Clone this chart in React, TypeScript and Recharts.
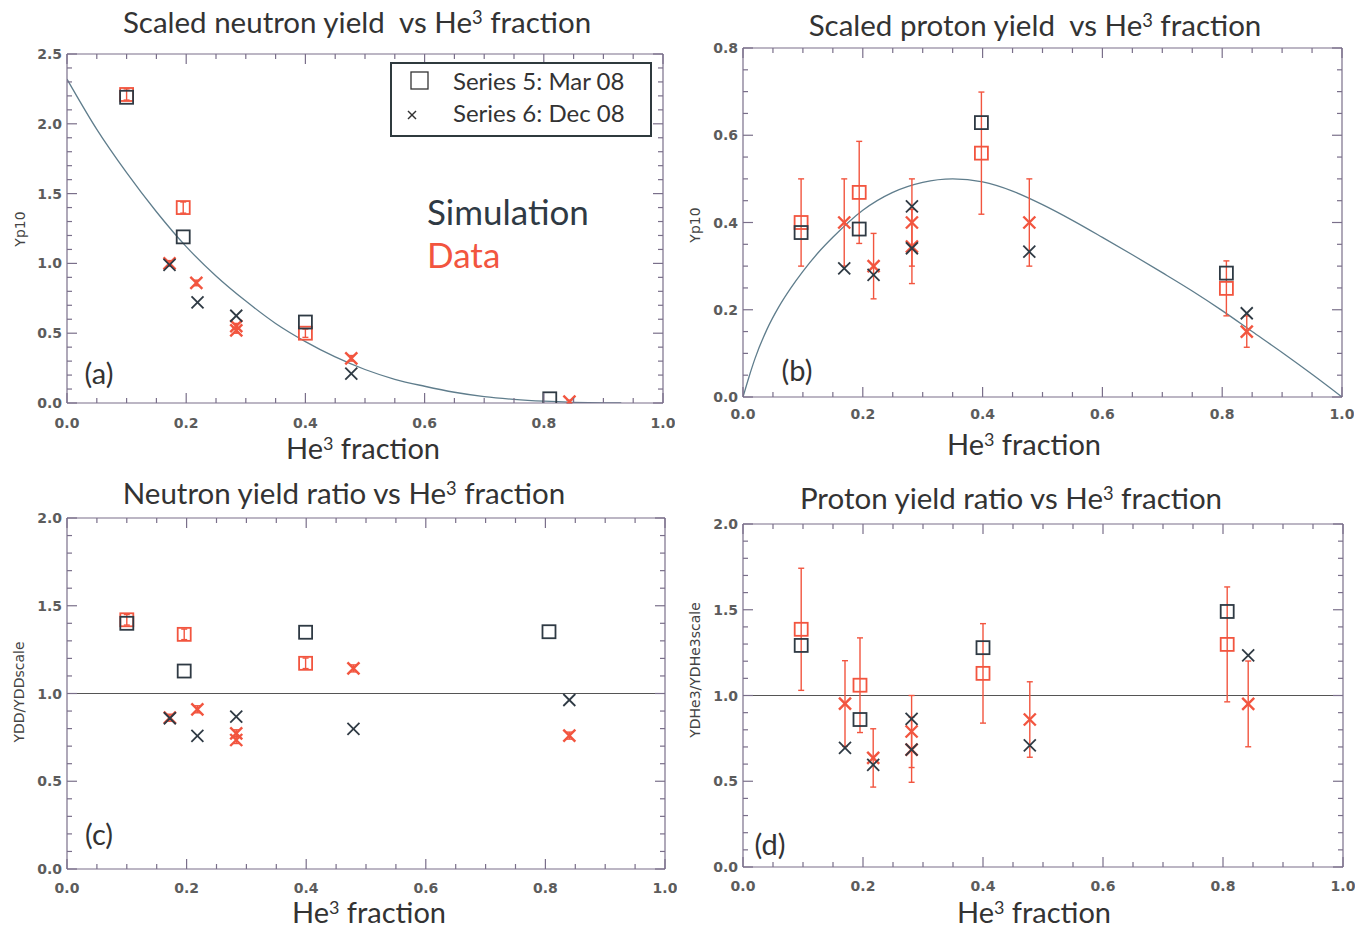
import React from 'react';
import { ComposedChart, Scatter, Line, XAxis, YAxis, ErrorBar, ReferenceLine } from 'recharts';

const FRAME = '#7a6f8a';
const SIM = '#2f3a44';
const DATA = '#f2553f';
const CURVE = '#5f7d8c';
const TICK_FONT = 'DejaVu Sans, sans-serif';
const TEXT_FONT = 'Lato, sans-serif';

// tick positions (majors get a label)
const xTicks = [0, 0.05, 0.1, 0.15, 0.2, 0.25, 0.3, 0.35, 0.4, 0.45, 0.5, 0.55, 0.6, 0.65, 0.7, 0.75, 0.8, 0.85, 0.9, 0.95, 1.0];
const yTicksA = [0, 0.1, 0.2, 0.3, 0.4, 0.5, 0.6, 0.7, 0.8, 0.9, 1.0, 1.1, 1.2, 1.3, 1.4, 1.5, 1.6, 1.7, 1.8, 1.9, 2.0, 2.1, 2.2, 2.3, 2.4, 2.5];
const yTicksB = [0, 0.05, 0.1, 0.15, 0.2, 0.25, 0.3, 0.35, 0.4, 0.45, 0.5, 0.55, 0.6, 0.65, 0.7, 0.75, 0.8];
const yTicksRatio = [0, 0.1, 0.2, 0.3, 0.4, 0.5, 0.6, 0.7, 0.8, 0.9, 1.0, 1.1, 1.2, 1.3, 1.4, 1.5, 1.6, 1.7, 1.8, 1.9, 2.0];

// (a) scaled neutron yield
const neutronSimMar = [{ x: 0.1, y: 2.19 }, { x: 0.195, y: 1.19 }, { x: 0.4, y: 0.58 }, { x: 0.81, y: 0.03 }];
const neutronSimDec = [{ x: 0.172, y: 0.99 }, { x: 0.219, y: 0.72 }, { x: 0.284, y: 0.625 }, { x: 0.477, y: 0.21 }];
const neutronDataMar = [{ x: 0.1, y: 2.21, err: 0.04 }, { x: 0.195, y: 1.4, err: 0.04 }, { x: 0.4, y: 0.5, err: 0.03 }];
const neutronDataDec = [
  { x: 0.172, y: 1.0, err: 0.02 }, { x: 0.217, y: 0.86, err: 0.02 }, { x: 0.284, y: 0.55, err: 0.02 },
  { x: 0.284, y: 0.52, err: 0.02 }, { x: 0.477, y: 0.32, err: 0.02 }, { x: 0.843, y: 0.01, err: 0.01 },
];
const neutronCurve = [
  { x: 0, y: 2.32 }, { x: 0.05, y: 1.96 }, { x: 0.1, y: 1.65 }, { x: 0.15, y: 1.37 }, { x: 0.2, y: 1.12 },
  { x: 0.25, y: 0.91 }, { x: 0.3, y: 0.73 }, { x: 0.35, y: 0.57 }, { x: 0.4, y: 0.44 }, { x: 0.45, y: 0.33 },
  { x: 0.5, y: 0.24 }, { x: 0.55, y: 0.17 }, { x: 0.6, y: 0.12 }, { x: 0.65, y: 0.077 }, { x: 0.7, y: 0.046 },
  { x: 0.75, y: 0.026 }, { x: 0.8, y: 0.013 }, { x: 0.85, y: 0.005 }, { x: 0.9, y: 0.001 }, { x: 0.93, y: 0 },
];

// (b) scaled proton yield
const protonSimMar = [{ x: 0.097, y: 0.377 }, { x: 0.194, y: 0.385 }, { x: 0.398, y: 0.629 }, { x: 0.807, y: 0.284 }];
const protonSimDec = [
  { x: 0.169, y: 0.295 }, { x: 0.218, y: 0.28 }, { x: 0.282, y: 0.437 },
  { x: 0.282, y: 0.341 }, { x: 0.478, y: 0.333 }, { x: 0.841, y: 0.192 },
];
const protonDataMar = [
  { x: 0.097, y: 0.4, err: 0.1 }, { x: 0.194, y: 0.469, err: 0.117 },
  { x: 0.398, y: 0.559, err: 0.14 }, { x: 0.807, y: 0.249, err: 0.063 },
];
const protonDataDec = [
  { x: 0.169, y: 0.4, err: 0.1 }, { x: 0.218, y: 0.3, err: 0.075 }, { x: 0.282, y: 0.4, err: 0.1 },
  { x: 0.282, y: 0.345, err: 0.085 }, { x: 0.478, y: 0.4, err: 0.1 }, { x: 0.841, y: 0.15, err: 0.036 },
];
const protonCurve = [
  { x: 0, y: 0 }, { x: 0.01, y: 0.046 }, { x: 0.02, y: 0.088 }, { x: 0.04, y: 0.155 }, { x: 0.06, y: 0.207 },
  { x: 0.08, y: 0.25 }, { x: 0.1, y: 0.288 }, { x: 0.125, y: 0.33 }, { x: 0.15, y: 0.366 }, { x: 0.2, y: 0.428 },
  { x: 0.25, y: 0.469 }, { x: 0.3, y: 0.492 }, { x: 0.35, y: 0.5 }, { x: 0.4, y: 0.493 }, { x: 0.45, y: 0.472 },
  { x: 0.5, y: 0.441 }, { x: 0.55, y: 0.405 }, { x: 0.6, y: 0.366 }, { x: 0.65, y: 0.326 }, { x: 0.7, y: 0.285 },
  { x: 0.75, y: 0.243 }, { x: 0.8, y: 0.198 }, { x: 0.85, y: 0.15 }, { x: 0.9, y: 0.102 }, { x: 0.95, y: 0.052 },
  { x: 1.0, y: 0 },
];

// (c) neutron yield ratio
const nRatioSimMar = [{ x: 0.1, y: 1.4 }, { x: 0.196, y: 1.128 }, { x: 0.399, y: 1.349 }, { x: 0.806, y: 1.352 }];
const nRatioSimDec = [{ x: 0.172, y: 0.859 }, { x: 0.218, y: 0.758 }, { x: 0.283, y: 0.868 }, { x: 0.479, y: 0.798 }, { x: 0.84, y: 0.963 }];
const nRatioDataMar = [{ x: 0.1, y: 1.42, err: 0.03 }, { x: 0.196, y: 1.337, err: 0.03 }, { x: 0.399, y: 1.172, err: 0.03 }];
const nRatioDataDec = [
  { x: 0.172, y: 0.862, err: 0.02 }, { x: 0.218, y: 0.91, err: 0.02 }, { x: 0.283, y: 0.773, err: 0.02 },
  { x: 0.283, y: 0.735, err: 0.02 }, { x: 0.479, y: 1.143, err: 0.02 }, { x: 0.84, y: 0.76, err: 0.02 },
];

// (d) proton yield ratio
const pRatioSimMar = [{ x: 0.097, y: 1.292 }, { x: 0.195, y: 0.86 }, { x: 0.4, y: 1.279 }, { x: 0.807, y: 1.49 }];
const pRatioSimDec = [
  { x: 0.17, y: 0.694 }, { x: 0.217, y: 0.596 }, { x: 0.281, y: 0.864 },
  { x: 0.281, y: 0.684 }, { x: 0.478, y: 0.709 }, { x: 0.842, y: 1.234 },
];
const pRatioDataMar = [
  { x: 0.097, y: 1.386, err: 0.356 }, { x: 0.195, y: 1.06, err: 0.276 },
  { x: 0.4, y: 1.129, err: 0.29 }, { x: 0.807, y: 1.298, err: 0.335 },
];
const pRatioDataDec = [
  { x: 0.17, y: 0.953, err: 0.25 }, { x: 0.217, y: 0.636, err: 0.17 }, { x: 0.281, y: 0.79, err: 0.21 },
  { x: 0.281, y: 0.684, err: 0.19 }, { x: 0.478, y: 0.86, err: 0.22 }, { x: 0.842, y: 0.951, err: 0.25 },
];

const isMultiple = (v: number, step: number) => Math.abs(v / step - Math.round(v / step)) < 1e-6;

const squareShape = (color: string, size = 13, sw = 1.8) => (p: any) => (
  <rect x={p.cx - size / 2} y={p.cy - size / 2} width={size} height={size} fill="none" stroke={color} strokeWidth={sw} />
);

const crossShape = (color: string, size = 12, sw = 1.8) => (p: any) => {
  const h = size / 2;
  return (
    <g stroke={color} strokeWidth={sw}>
      <line x1={p.cx - h} y1={p.cy - h} x2={p.cx + h} y2={p.cy + h} />
      <line x1={p.cx - h} y1={p.cy + h} x2={p.cx + h} y2={p.cy - h} />
    </g>
  );
};

const noShape = () => <g />;

const labelStyle = { fontFamily: TICK_FONT, fontSize: 14, fontWeight: 'bold' as const, fill: '#5c5c5c' };

// IDL style ticks: pointing inwards, labels only on majors
const makeTick = (side: 'bottom' | 'top' | 'left' | 'right', step: number, labelGap = 19) => (p: any) => {
  const v = p.payload.value;
  const major = isMultiple(v, step);
  const len = major ? 10 : 5;
  const x = Number(p.x);
  const y = Number(p.y);
  let d = '';
  if (side === 'bottom') d = `M${x},${y}V${y - len}`;
  else if (side === 'top') d = `M${x},${y}V${y + len}`;
  else if (side === 'left') d = `M${x},${y}H${x + len}`;
  else d = `M${x},${y}H${x - len}`;
  return (
    <g>
      <path d={d} fill="none" style={{ stroke: FRAME, strokeWidth: 1.2 }} />
      {major && side === 'bottom' && (
        <text x={x} y={y + labelGap} textAnchor="middle" dominantBaseline="central" style={labelStyle}>{v.toFixed(1)}</text>
      )}
      {major && side === 'left' && (
        <text x={x - 5} y={y} textAnchor="end" dominantBaseline="central" style={labelStyle}>{v.toFixed(1)}</text>
      )}
    </g>
  );
};

type Box = { l: number; t: number; r: number; b: number };

interface PanelProps {
  box: Box;
  yMax: number;
  yTicks: number[];
  yStep: number;
  labelGap: number;
  simMar: any[];
  simDec: any[];
  dataMar: any[];
  dataDec: any[];
  curve?: any[];
  refOne?: boolean;
}

const LW = 60;
const RW = 2;
const TH = 2;

function Panel({ box, yMax, yTicks, yStep, labelGap, simMar, simDec, dataMar, dataDec, curve, refOne }: PanelProps) {
  const w = box.r - box.l + LW + RW + 10;
  const h = box.b - box.t + 10 + TH + 40;
  return (
    <div style={{ position: 'absolute', left: box.l - LW, top: box.t - 10 - TH }}>
      <ComposedChart width={w} height={h} margin={{ top: 10, right: 10, bottom: 0, left: 0 }}>
        <XAxis dataKey="x" type="number" domain={[0, 1]} ticks={xTicks} interval={0} allowDataOverflow
          height={40} tickSize={0} tickMargin={0} tickLine={false} axisLine={{ stroke: FRAME, strokeWidth: 1.2 }}
          tick={makeTick('bottom', 0.2, labelGap)} />
        <XAxis xAxisId="top" orientation="top" dataKey="x" type="number" domain={[0, 1]} ticks={xTicks} interval={0}
          allowDataOverflow height={TH} tickSize={0} tickMargin={0} tickLine={false}
          axisLine={{ stroke: FRAME, strokeWidth: 1.2 }} tick={makeTick('top', 0.2)} />
        <YAxis dataKey="y" type="number" domain={[0, yMax]} ticks={yTicks} interval={0} allowDataOverflow
          width={LW} tickSize={0} tickMargin={0} tickLine={false} axisLine={{ stroke: FRAME, strokeWidth: 1.2 }}
          tick={makeTick('left', yStep)} />
        <YAxis yAxisId="right" orientation="right" dataKey="y" type="number" domain={[0, yMax]} ticks={yTicks} interval={0}
          allowDataOverflow width={RW} tickSize={0} tickMargin={0} tickLine={false}
          axisLine={{ stroke: FRAME, strokeWidth: 1.2 }} tick={makeTick('right', yStep)} />
        {refOne && <ReferenceLine y={1} stroke="#555" strokeWidth={1.2} />}
        {curve && (
          <Line data={curve} dataKey="y" type="monotone" stroke={CURVE} strokeWidth={1.3} dot={false} isAnimationActive={false} />
        )}
        {/* binds the mirrored top/right axes so they get drawn */}
        <Scatter data={simMar} xAxisId="top" yAxisId="right" shape={noShape} isAnimationActive={false} />
        <Scatter data={dataMar} shape={squareShape(DATA, 13, 1.8)} isAnimationActive={false}>
          <ErrorBar dataKey="err" direction="y" width={3} stroke={DATA} strokeWidth={1.4} />
        </Scatter>
        <Scatter data={dataDec} shape={crossShape(DATA, 12, 2.4)} isAnimationActive={false}>
          <ErrorBar dataKey="err" direction="y" width={3} stroke={DATA} strokeWidth={1.4} />
        </Scatter>
        <Scatter data={simMar} shape={squareShape(SIM, 13, 1.8)} isAnimationActive={false} />
        <Scatter data={simDec} shape={crossShape(SIM, 12, 1.8)} isAnimationActive={false} />
      </ComposedChart>
    </div>
  );
}

const sup = <sup style={{ fontSize: '0.62em', verticalAlign: '0.5em', lineHeight: 0 }}>3</sup>;

function CText({ x, y, size, color = '#333', children }: any) {
  return (
    <div style={{
      position: 'absolute', left: x, top: y, transform: 'translate(-50%, -50%)',
      fontFamily: TEXT_FONT, fontSize: size, color, whiteSpace: 'pre', lineHeight: 1,
    }}>{children}</div>
  );
}

function YTitle({ x, y, children }: any) {
  return (
    <div style={{
      position: 'absolute', left: x, top: y, transform: 'translate(-50%, -50%) rotate(-90deg)',
      fontFamily: TICK_FONT, fontSize: 14, color: '#444', whiteSpace: 'nowrap', lineHeight: 1,
    }}>{children}</div>
  );
}

export default function App() {
  return (
    <div style={{ position: 'absolute', left: 0, top: 0, width: 1367, height: 930, background: '#fff' }}>
      <Panel box={{ l: 67, t: 54, r: 663, b: 403 }} yMax={2.5} yTicks={yTicksA} yStep={0.5} labelGap={20}
        simMar={neutronSimMar} simDec={neutronSimDec} dataMar={neutronDataMar} dataDec={neutronDataDec} curve={neutronCurve} />
      <Panel box={{ l: 743, t: 48, r: 1342, b: 397 }} yMax={0.8} yTicks={yTicksB} yStep={0.2} labelGap={17}
        simMar={protonSimMar} simDec={protonSimDec} dataMar={protonDataMar} dataDec={protonDataDec} curve={protonCurve} />
      <Panel box={{ l: 67, t: 518, r: 665, b: 869 }} yMax={2.0} yTicks={yTicksRatio} yStep={0.5} labelGap={19}
        simMar={nRatioSimMar} simDec={nRatioSimDec} dataMar={nRatioDataMar} dataDec={nRatioDataDec} refOne />
      <Panel box={{ l: 743, t: 524, r: 1343, b: 867 }} yMax={2.0} yTicks={yTicksRatio} yStep={0.5} labelGap={19}
        simMar={pRatioSimMar} simDec={pRatioSimDec} dataMar={pRatioDataMar} dataDec={pRatioDataDec} refOne />

      {/* titles */}
      <CText x={357} y={22} size={29.5}>Scaled neutron yield  vs He{sup} fraction</CText>
      <CText x={1035} y={25} size={29.5}>Scaled proton yield  vs He{sup} fraction</CText>
      <CText x={344} y={493} size={29.5}>Neutron yield ratio vs He{sup} fraction</CText>
      <CText x={1011} y={498} size={29.5}>Proton yield ratio vs He{sup} fraction</CText>

      {/* x titles */}
      <CText x={363} y={447} size={29}>He{sup} fraction</CText>
      <CText x={1024} y={443} size={29}>He{sup} fraction</CText>
      <CText x={369} y={911} size={29}>He{sup} fraction</CText>
      <CText x={1034} y={911} size={29}>He{sup} fraction</CText>

      {/* y titles */}
      <YTitle x={20} y={229}>Yp10</YTitle>
      <YTitle x={695} y={225}>Yp10</YTitle>
      <YTitle x={19} y={692}>YDD/YDDscale</YTitle>
      <YTitle x={695} y={670}>YDHe3/YDHe3scale</YTitle>

      {/* panel tags */}
      <CText x={99} y={372} size={29}>(a)</CText>
      <CText x={797} y={369} size={29}>(b)</CText>
      <CText x={99} y={833} size={29}>(c)</CText>
      <CText x={770} y={843} size={29}>(d)</CText>

      {/* simulation / data key */}
      <div style={{ position: 'absolute', left: 427, top: 194, fontFamily: TEXT_FONT, fontSize: 35, color: SIM, lineHeight: 1 }}>Simulation</div>
      <div style={{ position: 'absolute', left: 427, top: 237, fontFamily: TEXT_FONT, fontSize: 35, color: DATA, lineHeight: 1 }}>Data</div>

      {/* legend */}
      <div style={{
        position: 'absolute', left: 390, top: 62, width: 258, height: 71, border: '2px solid #2f3a3e',
        background: '#fff', fontFamily: TEXT_FONT, fontSize: 24, color: '#333',
      }}>
        <svg width={40} height={71} style={{ position: 'absolute', left: 0, top: 0 }}>
          <rect x={19} y={8} width={17} height={17} fill="none" stroke="#333" strokeWidth={1.3} />
          <g stroke="#333" strokeWidth={1.5}>
            <line x1={16} y1={47} x2={24} y2={55} />
            <line x1={16} y1={55} x2={24} y2={47} />
          </g>
        </svg>
        <div style={{ position: 'absolute', left: 61, top: 3, lineHeight: 1.2 }}>Series 5: Mar 08</div>
        <div style={{ position: 'absolute', left: 61, top: 35, lineHeight: 1.2 }}>Series 6: Dec 08</div>
      </div>
    </div>
  );
}
